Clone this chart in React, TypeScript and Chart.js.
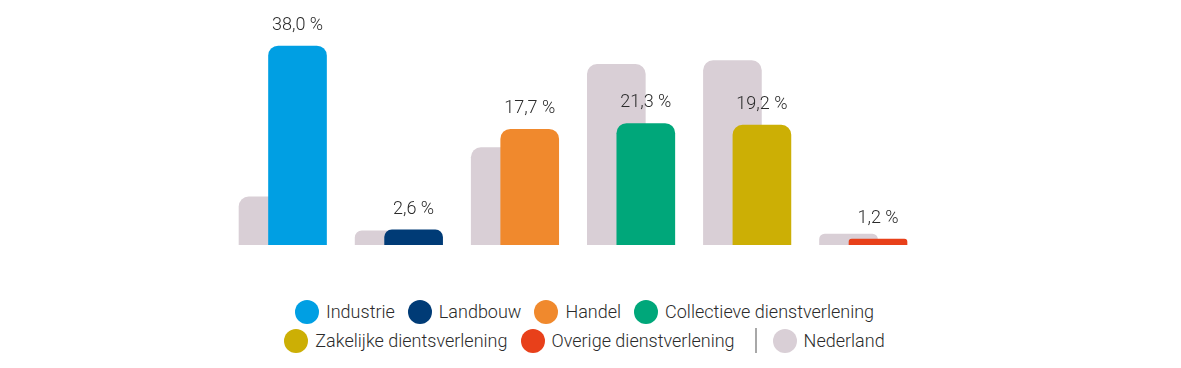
import React, { useEffect, useRef } from "react";
import { Chart, registerables } from "chart.js";

Chart.register(...registerables);

// ---- data ----
const categories = [
  "Industrie",
  "Landbouw",
  "Handel",
  "Collectieve dienstverlening",
  "Zakelijke dientsverlening",
  "Overige dienstverlening",
];
// bar heights as drawn in the picture
const sectorValues = [38.0, 2.9, 22.1, 23.2, 22.9, 1.15];
const nederlandValues = [9.2, 2.7, 18.6, 34.5, 35.2, 2.1];
// printed labels above the coloured bars
const shareLabels = [38.0, 2.6, 17.7, 21.3, 19.2, 1.2];
const sectorColors = ["#009fe3", "#003b76", "#f0892d", "#00a77a", "#ccaf05", "#e8401a"];
const nederlandLabel = "Nederland";
const nederlandColor = "#d9cfd6";

const TEXT_COLOR = "#2b2b2b";
const FONT = "Roboto, 'Noto Sans', sans-serif";

const formatShare = (v: number) => v.toFixed(1).replace(".", ",") + " %";

const valueLabelPlugin = {
  id: "valueLabels",
  afterDatasetsDraw(chart: any) {
    const meta = chart.getDatasetMeta(0);
    const ctx = chart.ctx as CanvasRenderingContext2D;
    ctx.save();
    ctx.font = "300 18px " + FONT;
    ctx.fillStyle = TEXT_COLOR;
    ctx.textAlign = "center";
    ctx.textBaseline = "middle";
    meta.data.forEach((el: any, i: number) => {
      ctx.fillText(formatShare(shareLabels[i]), el.x, el.y - 20.5);
    });
    ctx.restore();
  },
};

const SECTOR_SHIFT = 0.125;
const NEDERLAND_SHIFT = -0.129;

function LegendItem({ color, label }: { color: string; label: string }) {
  return (
    <div style={{ display: "flex", alignItems: "center" }}>
      <span
        style={{
          display: "inline-block",
          width: 24,
          height: 24,
          borderRadius: "50%",
          background: color,
          marginRight: 7,
        }}
      />
      <span>{label}</span>
    </div>
  );
}

export default function App() {
  const canvasRef = useRef<HTMLCanvasElement | null>(null);

  useEffect(() => {
    if (!canvasRef.current) return;
    const chart = new Chart(canvasRef.current, {
      type: "bar",
      data: {
        datasets: [
          {
            label: "Sector",
            data: categories.map((_, i) => ({ x: i + SECTOR_SHIFT, y: sectorValues[i] })),
            backgroundColor: sectorColors,
          },
          {
            label: nederlandLabel,
            data: categories.map((_, i) => ({ x: i + NEDERLAND_SHIFT, y: nederlandValues[i] })),
            backgroundColor: nederlandColor,
          },
        ],
      },
      options: {
        animation: false,
        responsive: true,
        maintainAspectRatio: false,
        datasets: {
          bar: {
            grouped: false,
            barThickness: 58,
            borderRadius: { topLeft: 10, topRight: 10, bottomLeft: 0, bottomRight: 0 },
            borderSkipped: "bottom",
          },
        } as any,
        layout: { padding: { left: 100.85, right: 135.35, top: 0, bottom: 25 } },
        scales: {
          x: {
            type: "linear",
            min: -1.5,
            max: 6.5,
            offset: false,
            grid: { offset: false },
            display: false,
          },
          y: { min: 0, max: 45.25, display: false },
        },
        plugins: {
          legend: { display: false },
          tooltip: { enabled: false },
        },
      },
      plugins: [valueLabelPlugin],
    });
    return () => chart.destroy();
  }, []);

  const row1 = categories.slice(0, 4).map((c, i) => ({ label: c, color: sectorColors[i] }));
  const row2 = categories.slice(4).map((c, i) => ({ label: c, color: sectorColors[i + 4] }));

  const rowStyle: React.CSSProperties = {
    display: "flex",
    justifyContent: "center",
    alignItems: "center",
    height: 29,
    gap: 13,
  };

  return (
    <div>
      <div style={{ position: "relative", height: 262 }}>
        <canvas ref={canvasRef} />
      </div>
      <div
        style={{
          marginTop: 27,
          paddingRight: 12,
          fontFamily: FONT,
          fontWeight: 300,
          fontSize: 18,
          color: TEXT_COLOR,
        }}
      >
        <div style={rowStyle}>
          {row1.map((it) => (
            <LegendItem key={it.label} color={it.color} label={it.label} />
          ))}
        </div>
        <div style={rowStyle}>
          {row2.map((it) => (
            <LegendItem key={it.label} color={it.color} label={it.label} />
          ))}
          <span
            style={{
              display: "inline-block",
              width: 2,
              height: 25,
              background: "#a8a8a8",
              marginLeft: 7,
              marginRight: 3,
            }}
          />
          <LegendItem color={nederlandColor} label={nederlandLabel} />
        </div>
      </div>
    </div>
  );
}
